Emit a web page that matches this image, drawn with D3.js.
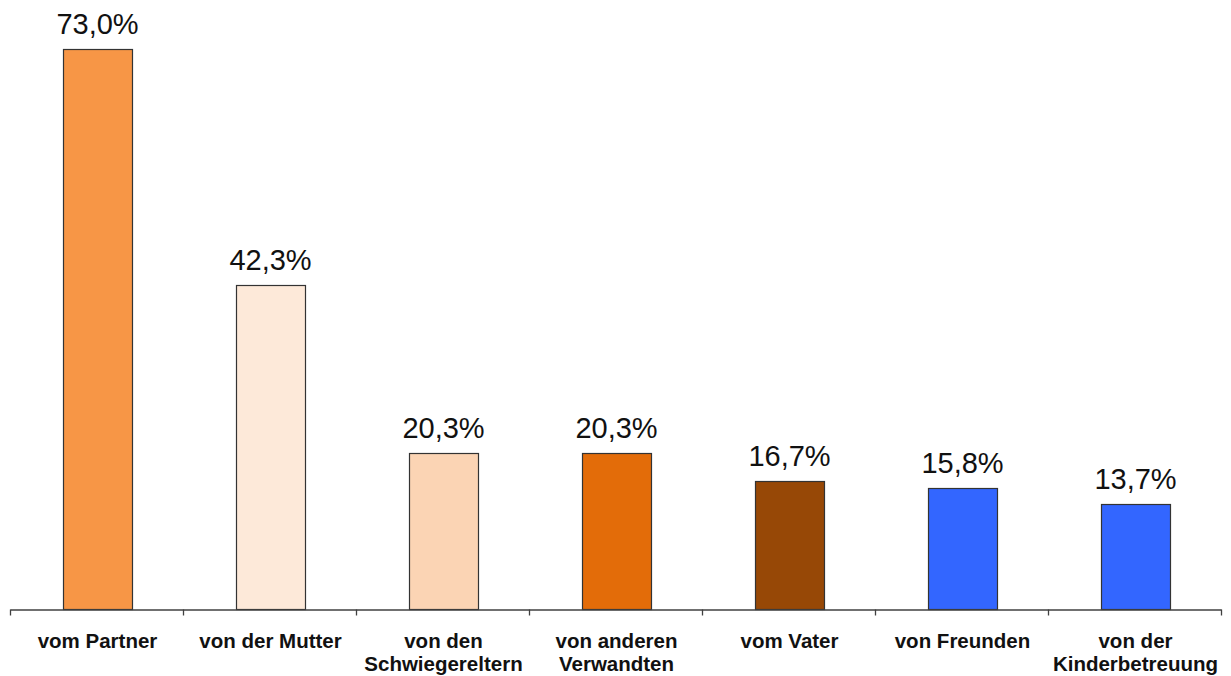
<!DOCTYPE html>
<html>
<head>
<meta charset="utf-8">
<script src="https://cdn.jsdelivr.net/npm/d3@7"></script>
<style>
  html, body { margin: 0; padding: 0; background: #fff; }
  svg { display: block; font-family: "Liberation Sans", Arial, sans-serif; }
</style>
</head>
<body>
<div id="chart"></div>
<script>
const categories = ['vom Partner', 'von der Mutter', 'von den Schwiegereltern', 'von anderen Verwandten', 'vom Vater', 'von Freunden', 'von der Kinderbetreuung'];
const labelLines = [['vom Partner'], ['von der Mutter'], ['von den', 'Schwiegereltern'], ['von anderen', 'Verwandten'], ['vom Vater'], ['von Freunden'], ['von der', 'Kinderbetreuung']];
const values = [73.0, 42.3, 20.3, 20.3, 16.7, 15.8, 13.7];
const colors = ['#F79646', '#FDE9D9', '#FBD4B4', '#E36C09', '#974806', '#3366FF', '#3366FF'];

const W = 1231, H = 676;
const LEFT = 10, RIGHT = 1221, BASE = 609, TOP = 49;

const svg = d3.select('#chart')
  .append('svg')
  .attr('width', W)
  .attr('height', H);

const x = d3.scaleBand()
  .domain(categories)
  .range([LEFT, RIGHT])
  .paddingInner(0.6)
  .paddingOuter(0.3);

const y = d3.scaleLinear()
  .domain([0, d3.max(values)])
  .range([BASE, TOP]);

const data = categories.map((c, i) => ({cat: c, value: values[i], color: colors[i], lines: labelLines[i]}));

// bars
svg.selectAll('rect.bar')
  .data(data)
  .join('rect')
  .attr('class', 'bar')
  .attr('x', d => Math.round(x(d.cat)) + 1.5)
  .attr('y', d => Math.round(y(d.value)) + 0.5)
  .attr('width', Math.round(x.bandwidth()))
  .attr('height', d => BASE - Math.round(y(d.value)))
  .attr('fill', d => d.color)
  .attr('stroke', '#333')
  .attr('stroke-width', 1.2);

// value labels
svg.selectAll('text.val')
  .data(data)
  .join('text')
  .attr('class', 'val')
  .attr('x', d => x(d.cat) + 1 + x.bandwidth() / 2)
  .attr('y', d => y(d.value) - 15)
  .attr('text-anchor', 'middle')
  .attr('font-size', 29)
  .attr('fill', '#111')
  .text(d => d.value.toFixed(1).replace('.', ',') + '%');

// x axis: baseline only, ticks between categories
const xAxis = d3.axisBottom(x).tickSize(0).tickFormat('');
const axisG = svg.append('g')
  .attr('class', 'x-axis')
  .attr('transform', 'translate(0,' + (BASE + 0.5) + ')')
  .call(xAxis);
axisG.select('.domain').attr('stroke', '#404040').attr('stroke-width', 1.3);

const half = x.step() * x.paddingInner() / 2;
const bounds = categories.map(c => x(c) - half).concat([x(categories[categories.length - 1]) + x.bandwidth() + half]);
axisG.selectAll('line.sep')
  .data(bounds)
  .join('line')
  .attr('class', 'sep')
  .attr('x1', d => Math.round(d) + 0.5)
  .attr('x2', d => Math.round(d) + 0.5)
  .attr('y1', 0)
  .attr('y2', 6)
  .attr('stroke', '#404040')
  .attr('stroke-width', 1.3);

// category labels
const lab = svg.selectAll('text.cat')
  .data(data)
  .join('text')
  .attr('class', 'cat')
  .attr('x', d => x(d.cat) + 1 + x.bandwidth() / 2)
  .attr('y', 648)
  .attr('text-anchor', 'middle')
  .attr('font-size', 20.5)
  .attr('font-weight', 'bold')
  .attr('fill', '#111');

lab.selectAll('tspan')
  .data(d => d.lines)
  .join('tspan')
  .attr('x', function() { return d3.select(this.parentNode).attr('x'); })
  .attr('dy', (d, i) => i === 0 ? 0 : 23)
  .text(d => d);
</script>
</body>
</html>
